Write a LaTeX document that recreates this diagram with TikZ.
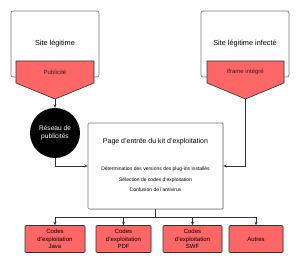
\documentclass[tikz,border=0pt]{standalone}
\usepackage{fontspec}
\setmainfont{Liberation Sans}
\usetikzlibrary{arrows.meta,shadows}
\definecolor{alert}{HTML}{FF6666}
\definecolor{frame}{HTML}{7A7A7A}
\definecolor{wire}{HTML}{333333}
\definecolor{tagink}{HTML}{3A1A1A}

\begin{document}
\begin{tikzpicture}[x=1pt,y=-1pt,>={Stealth[length=3.5pt,width=3pt]}]
 \tikzstyle{sitebox}=[rectangle,rounded corners=2pt,draw=frame,line width=0.7pt,fill=white,minimum width=88pt,minimum height=66pt,font=\fontsize{7.3}{8}\selectfont]
 \tikzstyle{tag}=[draw=wire,line width=0.6pt,fill=alert,line join=round]
 \tikzstyle{taglabel}=[font=\fontsize{6}{7}\selectfont,text=tagink]
 \tikzstyle{kitbox}=[rectangle,rounded corners=1pt,draw=frame,line width=0.7pt,fill=white,minimum width=135pt,minimum height=86pt,drop shadow={opacity=0.25,shadow xshift=0.8pt,shadow yshift=-0.8pt}]
 \tikzstyle{codebox}=[rectangle,rounded corners=1pt,draw=wire,line width=0.6pt,fill=alert,minimum height=27pt,align=center,font=\fontsize{6}{7.5}\selectfont,inner sep=0pt,drop shadow={opacity=0.25,shadow xshift=0.6pt,shadow yshift=-0.6pt}]
 \tikzstyle{wireline}=[draw=wire,line width=0.7pt]
 \useasboundingbox (0,0) rectangle (300,264);
 % sites
 \node[sitebox] (site) at (55,44) {Site légitime};
 \node[sitebox] (infect) at (245,44) {Site légitime infecté};
 \draw[tag] (16,61) -- (94,61) -- (94,83) -- (55,99) -- (16,83) -- cycle;
 \draw[tag] (207,61) -- (284,61) -- (284,83) -- (245.5,99) -- (207,83) -- cycle;
 \node[taglabel] (pub) at (55,72) {Publicité};
 \node[taglabel] (iframe) at (245.5,72) {iframe intégré};
 \coordinate (pubtip) at (55,99);
 \coordinate (iframetip) at (245.5,99);
 % ad network
 \node[circle,fill=black,minimum size=50pt,inner sep=0pt,text=white,align=center,font=\fontsize{6.6}{8}\selectfont] (reseau) at (55,133) {Réseau de\\publicités};
 % exploit kit
 \node[kitbox] (kit) at (155.5,166) {};
 \node[font=\fontsize{7}{8}\selectfont] (kittitle) at (155.5,142) {Page d'entrée du kit d'exploitation};
 \node[font=\fontsize{5}{6}\selectfont] (step1) at (155.5,169) {Détermination des versions des plug-ins installés};
 \node[font=\fontsize{5}{6}\selectfont] (step2) at (155.5,180) {Sélection de codes d'exploitation};
 \node[font=\fontsize{5}{6}\selectfont] (step3) at (155.5,190) {Confusion de l'antivirus};
 % payloads
 \node[codebox,minimum width=60pt] (java) at (55,239) {Codes\\d'exploitation\\Java};
 \node[codebox,minimum width=55pt] (pdf) at (123.5,239) {Codes\\d'exploitation\\PDF};
 \node[codebox,minimum width=59pt] (swf) at (192.5,239) {Codes\\d'exploitation\\SWF};
 \node[codebox,minimum width=54pt] (autres) at (256,239) {Autres};
 \coordinate (split) at (155.5,217);
 % connectors
 \draw[wireline,->] (pubtip) -- (reseau);
 \draw[wireline,->] (reseau.south) |- (kit.west);
 \draw[wireline,->] (iframetip) |- (kit.east);
 \draw[wireline] (kit.south) -- (split);
 \foreach \b in {java,pdf,swf,autres}
  \draw[wireline,->] (split) -| (\b.north);
\end{tikzpicture}
\end{document}
